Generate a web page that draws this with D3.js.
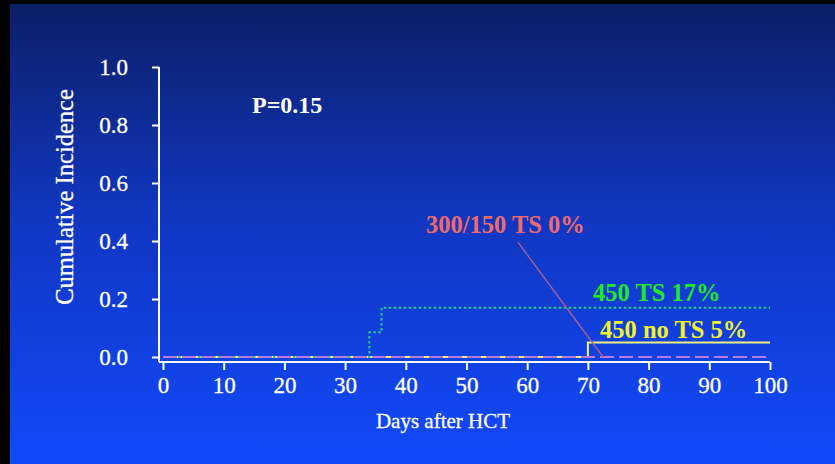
<!DOCTYPE html>
<html>
<head>
<meta charset="utf-8">
<script src="https://cdn.jsdelivr.net/npm/d3@7/dist/d3.min.js"></script>
<style>
  html, body { margin: 0; padding: 0; background: #000; }
  svg { display: block; }
  text { font-family: "Liberation Serif", "Times New Roman", serif; }
</style>
</head>
<body>
<svg id="chart" width="835" height="464"></svg>
<script>
// Cumulative incidence by group, step functions over days after HCT
const days450TS = [0, 34, 36, 100];
const inc450TS = [0, 0.085, 0.17, 0.17];
const days450noTS = [0, 70, 100];
const inc450noTS = [0, 0.05, 0.05];
const days300_150 = [0, 100];
const inc300_150 = [0, 0];

const xTicks = [0, 10, 20, 30, 40, 50, 60, 70, 80, 90, 100];
const yTicks = [0, 0.2, 0.4, 0.6, 0.8, 1.0];

const groupLabels = ["450 TS 17%", "450 no TS 5%", "300/150 TS 0%"];
const pLabel = "P=0.15";

const W = 835, H = 464;
const svg = d3.select("#chart");

// slide background
const defs = svg.append("defs");
const grad = defs.append("linearGradient").attr("id", "bg")
  .attr("x1", 0).attr("y1", 0).attr("x2", 0).attr("y2", 1);
grad.append("stop").attr("offset", "0%").attr("stop-color", "#0b1f66");
grad.append("stop").attr("offset", "45%").attr("stop-color", "#1136bf");
grad.append("stop").attr("offset", "100%").attr("stop-color", "#1149fb");
svg.append("rect").attr("width", W).attr("height", H).attr("fill", "#000");
svg.append("rect").attr("x", 10).attr("y", 4).attr("width", W - 10).attr("height", H - 4)
  .attr("fill", "url(#bg)");

const x = d3.scaleLinear().domain([0, 100]).range([163, 770]);
const y = d3.scaleLinear().domain([0, 1]).range([357, 67]);

const axisX0 = 159, axisY0 = 362;

// y axis
const gy = svg.append("g").attr("transform", `translate(${axisX0},0)`)
  .call(d3.axisLeft(y).tickValues(yTicks).tickFormat(d3.format(".1f"))
    .tickSize(7).tickPadding(24));
gy.select(".domain").remove();
gy.append("line").attr("x1", 0).attr("x2", 0).attr("y1", y(1)).attr("y2", axisY0)
  .attr("stroke", "#fff").attr("stroke-width", 2);

// x axis
const gx = svg.append("g").attr("transform", `translate(0,${axisY0})`)
  .call(d3.axisBottom(x).tickValues(xTicks).tickFormat(d3.format("d"))
    .tickSize(8).tickPadding(7));
gx.select(".domain").remove();
gx.append("line").attr("x1", axisX0).attr("x2", x(100)).attr("y1", 0).attr("y2", 0)
  .attr("stroke", "#fff").attr("stroke-width", 2);

[gx, gy].forEach(g => {
  g.selectAll(".tick line").attr("stroke", "#fff").attr("stroke-width", 2);
  g.selectAll(".tick text").attr("fill", "#fff")
    .attr("stroke", "#fff").attr("stroke-width", 0.3)
    .style("font-family", '"Liberation Serif", serif').style("font-size", "23px");
});

// axis titles
svg.append("text").attr("transform", "translate(64,197) rotate(-90)")
  .attr("text-anchor", "middle").attr("dominant-baseline", "central")
  .attr("fill", "#fff").attr("stroke", "#fff").attr("stroke-width", 0.3)
  .style("font-size", "24.5px").text("Cumulative Incidence");
svg.append("text").attr("x", 443).attr("y", 428).attr("text-anchor", "middle")
  .attr("fill", "#fff").attr("stroke", "#fff").attr("stroke-width", 0.3)
  .style("font-size", "21px").text("Days after HCT");

// step curves
const line = d3.line().x(d => x(d[0])).y(d => y(d[1])).curve(d3.curveStepAfter);

svg.append("path").datum(d3.zip(days450noTS, inc450noTS))
  .attr("d", line).attr("fill", "none")
  .attr("stroke", "#f2f27a").attr("stroke-width", 2);

svg.append("path").datum(d3.zip(days450TS, inc450TS))
  .attr("d", line).attr("fill", "none")
  .attr("stroke", "#1fcf86").attr("stroke-width", 2)
  .attr("stroke-dasharray", "2.5,2.5");

svg.append("path").datum(d3.zip(days300_150, inc300_150))
  .attr("d", line).attr("fill", "none")
  .attr("stroke", "#b87ae0").attr("stroke-width", 2)
  .attr("stroke-dasharray", "14,5");

// pointer from the 300/150 label to its curve
svg.append("line")
  .attr("x1", x(58.5)).attr("y1", y(0.395))
  .attr("x2", x(72.5)).attr("y2", y(0))
  .attr("stroke", "#b06090").attr("stroke-width", 1.3);

// annotations
function label(tx, ty, txt, color, size) {
  svg.append("text").attr("x", tx).attr("y", ty).attr("fill", color)
    .style("font-size", size || "24px").style("font-weight", "bold").text(txt);
}
label(252, 113, pLabel, "#ffffff", "24px");
label(426, 233, groupLabels[2], "#f06a6a", "24.5px");
label(593, 301, groupLabels[0], "#22ea22", "24.5px");
label(600, 338, groupLabels[1], "#f2f22c", "24.5px");
</script>
</body>
</html>
